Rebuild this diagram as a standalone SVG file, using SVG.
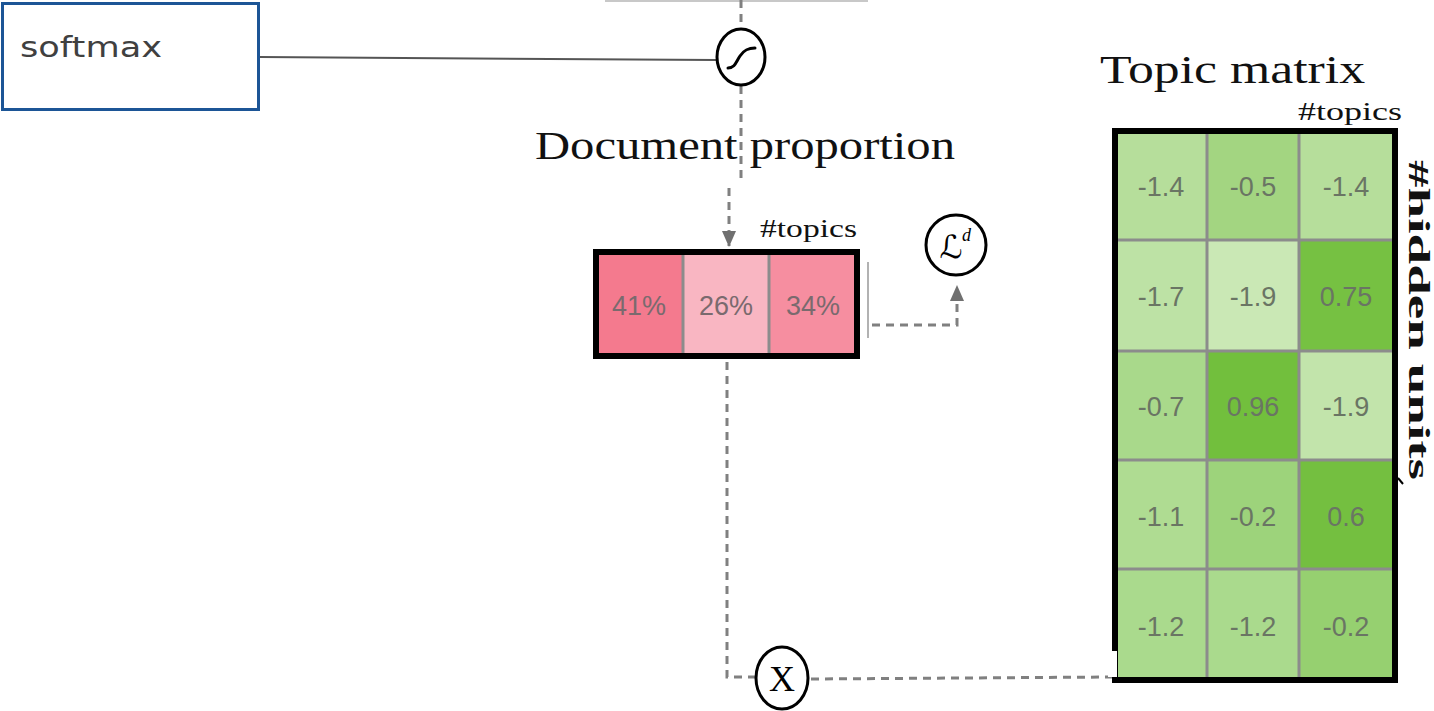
<svg xmlns="http://www.w3.org/2000/svg" width="1434" height="711" viewBox="0 0 1434 711">
  <defs>
    <style>
      .dash { fill: none; stroke: #808080; stroke-width: 3; stroke-dasharray: 8 6; }
      .op { fill: #fff; stroke: #000; stroke-width: 3; }
      .serif { font-family: "Liberation Serif", "DejaVu Serif", serif; fill: #111; }
      .cellv { font-family: "Liberation Sans", Arial, sans-serif; font-size: 27px; fill: #6a7564; text-anchor: middle; }
      .pct { font-family: "Liberation Sans", Arial, sans-serif; font-size: 27px; fill: #7a6a6e; text-anchor: middle; }
      .grid { stroke: #8c8c8c; stroke-width: 3; }
    </style>
    <marker id="arrow" viewBox="0 0 16 14" refX="15" refY="7" markerWidth="16" markerHeight="14" orient="auto" markerUnits="userSpaceOnUse">
      <path d="M0,0 L16,7 L0,14 Z" fill="#707070"/>
    </marker>
  </defs>
  <rect width="1434" height="711" fill="#fff"/>

  <!-- connectors -->
  <g id="connectors">
    <line x1="605" y1="1" x2="868" y2="1" stroke="#c8c8c8" stroke-width="2"/>
    <line x1="260" y1="57" x2="716" y2="60" stroke="#555" stroke-width="2"/>
    <line class="dash" x1="741" y1="0" x2="741" y2="30"/>
    <line class="dash" x1="741" y1="86" x2="741" y2="184"/>
    <line class="dash" x1="729" y1="188" x2="729" y2="246" marker-end="url(#arrow)"/>
    <line x1="868" y1="262" x2="868" y2="338" stroke="#999" stroke-width="1.5"/>
    <polyline class="dash" points="872,325 957,325 957,286" marker-end="url(#arrow)"/>
    <polyline class="dash" points="727,362 727,677 755,677"/>
    <line class="dash" x1="811" y1="679" x2="1113" y2="677"/>
  </g>

  <!-- softmax label box -->
  <g id="softmax">
    <rect x="2.5" y="3.5" width="256" height="106" fill="#fff" stroke="#1c5596" stroke-width="3"/>
    <text x="20" y="57" font-family="'DejaVu Sans', sans-serif" font-size="28" fill="#404040" textLength="142" lengthAdjust="spacingAndGlyphs">softmax</text>
  </g>

  <!-- sigmoid operator -->
  <g id="sigmoid">
    <ellipse class="op" cx="741" cy="57" rx="24" ry="28"/>
    <path d="M728,68 C735,68 736,62 740,56 C744,50 748,48 755,48" fill="none" stroke="#000" stroke-width="3" stroke-linecap="round"/>
  </g>

  <!-- document proportion vector -->
  <g id="doc-proportion">
    <text class="serif" x="535" y="159" font-size="40" textLength="420" lengthAdjust="spacingAndGlyphs">Document proportion</text>
    <text class="serif" x="760" y="237" font-size="25" textLength="97" lengthAdjust="spacingAndGlyphs">#topics</text>
    <rect x="596" y="252" width="87" height="104" fill="#f47a8e"/>
    <rect x="683" y="252" width="86" height="104" fill="#f9b6c2"/>
    <rect x="769" y="252" width="88" height="104" fill="#f68ea0"/>
    <line class="grid" x1="683" y1="252" x2="683" y2="356"/>
    <line class="grid" x1="769" y1="252" x2="769" y2="356"/>
    <rect x="596" y="252" width="261" height="104" fill="none" stroke="#000" stroke-width="6"/>
    <text class="pct" x="639" y="315">41%</text>
    <text class="pct" x="726" y="315">26%</text>
    <text class="pct" x="813" y="315">34%</text>
  </g>

  <!-- document loss -->
  <g id="loss-d">
    <ellipse class="op" cx="956" cy="245" rx="30" ry="30"/>
    <text x="951" y="258" font-family="'DejaVu Sans', sans-serif" font-size="32" fill="#000" text-anchor="middle">ℒ</text>
    <text x="962" y="241" font-family="'Liberation Serif', serif" font-style="italic" font-size="18" fill="#000">d</text>
  </g>

  <!-- product operator -->
  <g id="product">
    <ellipse class="op" cx="782" cy="678" rx="26" ry="31"/>
    <text x="782" y="691" font-family="'Liberation Serif', serif" font-size="36" fill="#000" text-anchor="middle">X</text>
  </g>

  <!-- topic matrix -->
  <g id="topic-matrix">
    <text class="serif" x="1100" y="83" font-size="40" textLength="265" lengthAdjust="spacingAndGlyphs">Topic matrix</text>
    <text class="serif" x="1298" y="120" font-size="25" textLength="104" lengthAdjust="spacingAndGlyphs">#topics</text>
    <!-- row 1 -->
    <rect x="1115" y="131" width="92" height="109" fill="#b6de9b"/>
    <rect x="1207" y="131" width="92" height="109" fill="#a3d581"/>
    <rect x="1299" y="131" width="96" height="109" fill="#b6de9b"/>
    <!-- row 2 -->
    <rect x="1115" y="240" width="92" height="111" fill="#bde2a5"/>
    <rect x="1207" y="240" width="92" height="111" fill="#cae8b5"/>
    <rect x="1299" y="240" width="96" height="111" fill="#76c142"/>
    <!-- row 3 -->
    <rect x="1115" y="351" width="92" height="109" fill="#a9d98b"/>
    <rect x="1207" y="351" width="92" height="109" fill="#72bf3d"/>
    <rect x="1299" y="351" width="96" height="109" fill="#c2e4ab"/>
    <!-- row 4 -->
    <rect x="1115" y="460" width="92" height="109" fill="#afdc92"/>
    <rect x="1207" y="460" width="92" height="109" fill="#9dd37b"/>
    <rect x="1299" y="460" width="96" height="109" fill="#74bf40"/>
    <!-- row 5 -->
    <rect x="1115" y="569" width="92" height="111" fill="#aada8d"/>
    <rect x="1207" y="569" width="92" height="111" fill="#aada8d"/>
    <rect x="1299" y="569" width="96" height="111" fill="#96d070"/>
    <g class="grid">
      <line x1="1207" y1="131" x2="1207" y2="680"/>
      <line x1="1299" y1="131" x2="1299" y2="680"/>
      <line x1="1115" y1="240" x2="1395" y2="240"/>
      <line x1="1115" y1="351" x2="1395" y2="351"/>
      <line x1="1115" y1="460" x2="1395" y2="460"/>
      <line x1="1115" y1="569" x2="1395" y2="569"/>
    </g>
    <rect x="1115" y="131" width="280" height="549" fill="none" stroke="#000" stroke-width="6"/>
    <rect x="1108" y="651" width="9" height="26" fill="#fff"/>
    <path d="M1398,478 L1403,484" stroke="#000" stroke-width="2"/>
    <g>
      <text class="cellv" x="1161" y="196">-1.4</text>
      <text class="cellv" x="1253" y="196">-0.5</text>
      <text class="cellv" x="1346" y="196">-1.4</text>
      <text class="cellv" x="1161" y="306">-1.7</text>
      <text class="cellv" x="1253" y="306">-1.9</text>
      <text class="cellv" x="1346" y="306">0.75</text>
      <text class="cellv" x="1161" y="416">-0.7</text>
      <text class="cellv" x="1253" y="416">0.96</text>
      <text class="cellv" x="1346" y="416">-1.9</text>
      <text class="cellv" x="1161" y="526">-1.1</text>
      <text class="cellv" x="1253" y="526">-0.2</text>
      <text class="cellv" x="1346" y="526">0.6</text>
      <text class="cellv" x="1161" y="636">-1.2</text>
      <text class="cellv" x="1253" y="636">-1.2</text>
      <text class="cellv" x="1346" y="636">-0.2</text>
    </g>
    <text class="serif" transform="translate(1409,160) rotate(90)" font-size="29" font-weight="bold" textLength="320" lengthAdjust="spacingAndGlyphs">#hidden units</text>
  </g>
</svg>
